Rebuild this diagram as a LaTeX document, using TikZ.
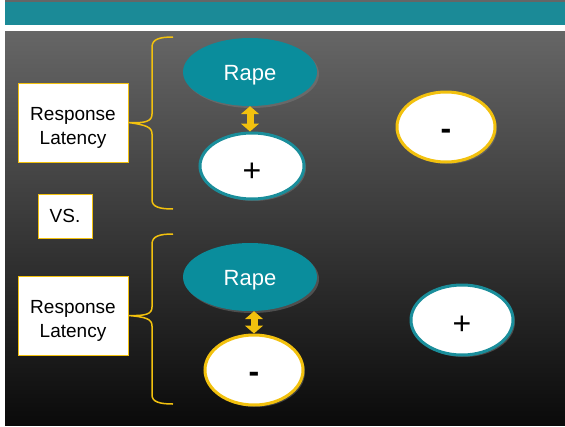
\documentclass[tikz,border=0pt]{standalone}
\usepackage{fontspec}
\setmainfont{Liberation Sans}
\usetikzlibrary{shapes.geometric,arrows.meta,shadows}

\definecolor{barteal}{HTML}{1B8A97}
\definecolor{rapeteal}{HTML}{0A8D9C}
\definecolor{rimteal}{HTML}{1A8E9B}
\definecolor{gold}{HTML}{F2C10E}

% content pushed down, box kept where it was
\newcommand{\lowered}[2]{\raisebox{-#1}[\height][\depth]{#2}}

\tikzset{
  rape/.style={ellipse, fill=rapeteal, text=white, minimum width=134pt, minimum height=68pt,
    inner sep=0pt, font=\fontsize{22}{26}\selectfont,
    drop shadow={opacity=0.45, shadow xshift=2pt, shadow yshift=-2pt}},
  sign/.style={ellipse, fill=white, line width=3pt, inner sep=0pt,
    font=\fontsize{32}{34}\selectfont,
    drop shadow={opacity=0.45, shadow xshift=2pt, shadow yshift=-2pt}},
  latency/.style={draw=gold, fill=white, line width=1pt, align=center, inner sep=0pt,
    font=\fontsize{19}{24}\selectfont},
  brace/.style={draw=gold, line width=1.5pt},
  link/.style={gold, line width=7pt, {Triangle[width=18pt,length=8pt]}-{Triangle[width=18pt,length=8pt]}}
}

\begin{document}
\begin{tikzpicture}[x=1pt, y=-1pt]
  \useasboundingbox (0, 0) rectangle (565, 426) ;

  % slide background
  \fill[white] (0, 0) rectangle (565, 426) ;
  \fill[gray!80!black] (5, 0) rectangle (565, 2) ;
  \fill[barteal] (5, 2) rectangle (565, 25) ;
  \shade[top color=black!60, bottom color=black!96] (5, 31) rectangle (565, 425) ;

  % boxes on the left
  \node[latency, minimum width=110pt, minimum height=79pt] (lat1) at (73, 122.5) {\rule{0pt}{24pt}Response\\Latency} ;
  \node[latency, minimum width=54pt, minimum height=44pt] (vs) at (65, 216) {VS.} ;
  \node[latency, minimum width=110pt, minimum height=79pt] (lat2) at (73, 315.5) {\rule{0pt}{24pt}Response\\Latency} ;

  % first pair
  \node[rape] (rape1) at (250, 72) {\lowered{3pt}{Rape}} ;
  \node[sign, draw=rimteal, minimum width=104pt, minimum height=66pt] (plus1) at (252, 166) {\lowered{6pt}{+}} ;
  \node[sign, draw=gold, minimum width=98pt, minimum height=70pt] (minus1) at (446, 127) {\lowered{7pt}{\bfseries -}} ;

  % second pair
  \node[rape] (rape2) at (250, 277) {\lowered{3pt}{Rape}} ;
  \node[sign, draw=gold, minimum width=98pt, minimum height=70pt] (minus2) at (254, 370) {\lowered{7pt}{\bfseries -}} ;
  \node[sign, draw=rimteal, minimum width=102pt, minimum height=70pt] (plus2) at (462, 320) {\lowered{5pt}{+}} ;

  \draw[link] (rape1.south) -- (rape1.south |- plus1.north) ;
  \draw[link] (minus2.north |- rape2.south) -- (minus2.north) ;

  % braces
  \coordinate (top1) at (173, 37) ;
  \coordinate (bot1) at (173, 209) ;
  \coordinate (top2) at (173, 234) ;
  \coordinate (bot2) at (173, 404) ;
  \draw[brace] (top1) .. controls (160, 37) and (152, 39) .. (152, 47) -- (152, 114)
    .. controls (152, 121) and (146, 123.5) .. (lat1.east)
    .. controls (146, 125) and (152, 127) .. (152, 134) -- (152, 200)
    .. controls (152, 207) and (160, 209) .. (bot1) ;
  \draw[brace] (top2) .. controls (160, 234) and (152, 236) .. (152, 244) -- (152, 307)
    .. controls (152, 314) and (146, 316) .. (lat2.east)
    .. controls (146, 317) and (152, 319) .. (152, 326) -- (152, 395)
    .. controls (152, 402) and (160, 404) .. (bot2) ;
\end{tikzpicture}
\end{document}
